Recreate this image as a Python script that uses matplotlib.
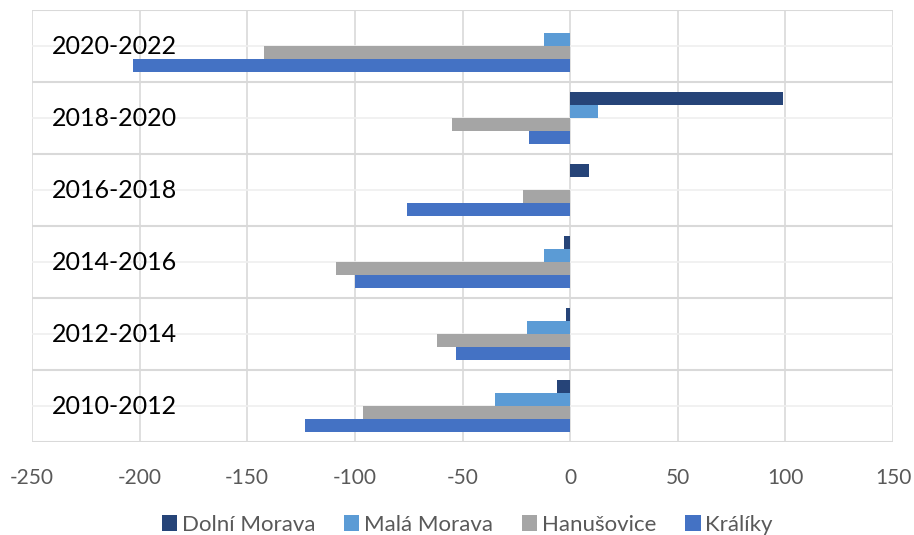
import matplotlib
matplotlib.use("Agg")
import matplotlib.pyplot as plt
import matplotlib.transforms as mtransforms
import numpy as np

plt.rcParams['font.family'] = ['Lato', 'DejaVu Sans']
plt.rcParams['axes.unicode_minus'] = False

periods = ["2010-2012", "2012-2014", "2014-2016", "2016-2018", "2018-2020", "2020-2022"]
dolni_morava = [-6, -2, -3, 9, 99, 0]
mala_morava = [-35, -20, -12, 0, 13, -12]
hanusovice = [-96, -62, -109, -22, -55, -142]
kraliky = [-123, -53, -100, -76, -19, -203]

series_names = ["Dolní Morava", "Malá Morava", "Hanušovice", "Králíky"]
series_values = [dolni_morava, mala_morava, hanusovice, kraliky]
series_colors = ["#264478", "#5B9BD5", "#A5A5A5", "#4472C4"]

fig = plt.figure(figsize=(9.14, 5.35), dpi=100)
ax = fig.add_axes([32 / 914, 1 - 442 / 535, (893 - 32) / 914, (442 - 10) / 535])

y = np.arange(len(periods))
bar_h = 0.18
offsets = [1.5, 0.5, -0.5, -1.5]
for name, vals, col, off in zip(series_names, series_values, series_colors, offsets):
    ax.barh(y + off * bar_h, vals, height=bar_h, color=col, label=name, zorder=3)

ax.set_xlim(-250, 150)
ax.set_ylim(-0.5, len(periods) - 0.5)
ax.set_xticks(np.arange(-250, 151, 50))

# gridlines: vertical at each tick, horizontal at category boundaries and faint at centres
for xv in np.arange(-250, 151, 50):
    ax.axvline(xv, color="#D9D9D9", lw=1.2, zorder=1)
for yb in np.arange(-0.5, len(periods), 1.0):
    ax.axhline(yb, color="#D9D9D9", lw=1.5, zorder=1)
for yc in y:
    ax.axhline(yc, color="#EFEFEF", lw=1.2, zorder=1)

ax.set_yticks([])
for s in ax.spines.values():
    s.set_visible(False)
ax.tick_params(axis="x", length=0, pad=19, labelsize=15, labelcolor="#595959")

trans = mtransforms.blended_transform_factory(ax.transAxes, ax.transData)
for yi, label in zip(y, periods):
    ax.text(20 / 861, yi, label, transform=trans, ha="left", va="center",
            fontsize=18, color="black", zorder=4)

fig.legend(loc="center", bbox_to_anchor=(0.511, 1 - 525 / 535), ncol=4, frameon=False,
           fontsize=16, handlelength=0.7, handleheight=0.7, handletextpad=0.2,
           columnspacing=1.3, labelcolor="#595959")

fig.savefig("out.png", dpi=100)
